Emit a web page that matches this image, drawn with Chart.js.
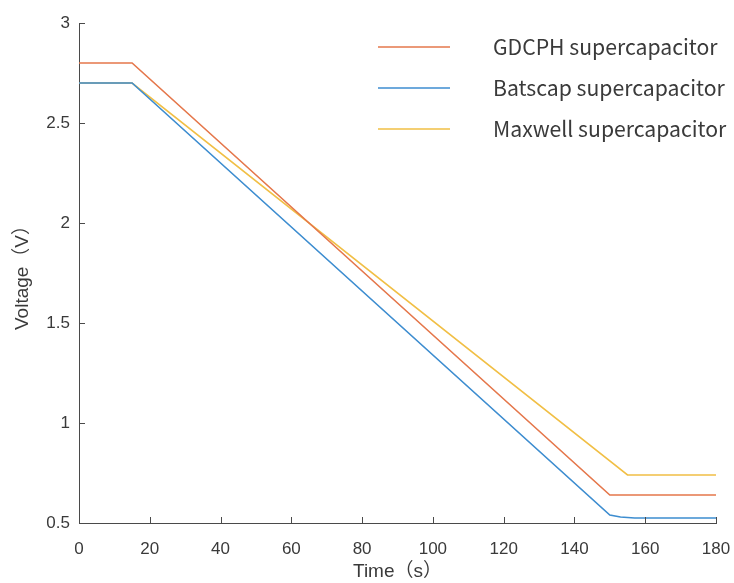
<!DOCTYPE html>
<html>
<head>
<meta charset="utf-8">
<script src="https://cdn.jsdelivr.net/npm/chart.js@4/dist/chart.umd.min.js"></script>
<style>
html,body{margin:0;padding:0;background:#fff;}
#wrap{width:734px;height:583px;position:relative;}
</style>
</head>
<body>
<div id="wrap"><canvas id="c" width="734" height="583"></canvas></div>
<script>
// ---- data ----
const seriesLabels = ['GDCPH supercapacitor', 'Batscap supercapacitor', 'Maxwell supercapacitor'];
const gdcphTime = [0, 15, 150, 180];
const gdcphVolt = [2.8, 2.8, 0.64, 0.64];
const batscapTime = [0, 15, 150, 153, 157, 180];
const batscapVolt = [2.7, 2.7, 0.54, 0.53, 0.525, 0.525];
const maxwellTime = [0, 15, 155, 180];
const maxwellVolt = [2.7, 2.7, 0.74, 0.74];
const xTicks = [0, 20, 40, 60, 80, 100, 120, 140, 160, 180];
const yTicks = [0.5, 1, 1.5, 2, 2.5, 3];
const xTitle = 'Time（s）';
const yTitle = 'Voltage（V）';

const colors = ['#E5774B', '#3D8DD0', '#F1BF45'];
const pts = (t, v) => t.map((x, i) => ({x, y: v[i]}));

const axisColor = '#4a4a4a';
const textColor = '#3a3a3a';

const innerTicks = {
  id: 'innerTicks',
  afterDraw(chart) {
    const {ctx, chartArea: a, scales: {x, y}} = chart;
    ctx.save();
    ctx.strokeStyle = axisColor;
    ctx.lineWidth = 1;
    ctx.beginPath();
    xTicks.forEach(v => {
      const px = Math.round(x.getPixelForValue(v)) + 0.5;
      ctx.moveTo(px, a.bottom); ctx.lineTo(px, a.bottom - 6);
    });
    yTicks.forEach(v => {
      const py = Math.round(y.getPixelForValue(v)) + 0.5;
      ctx.moveTo(a.left, py); ctx.lineTo(a.left + 6, py);
    });
    ctx.stroke();
    ctx.restore();
  }
};

const insideLegend = {
  id: 'insideLegend',
  afterDraw(chart) {
    const ctx = chart.ctx;
    ctx.save();
    ctx.font = '21.2px "Noto Sans CJK SC", "Noto Sans", sans-serif';
    ctx.textBaseline = 'middle';
    chart.data.datasets.forEach((ds, i) => {
      const yy = 47 + i * 41;
      ctx.strokeStyle = ds.borderColor;
      ctx.lineWidth = 1.6;
      ctx.beginPath();
      ctx.moveTo(378, yy); ctx.lineTo(450, yy);
      ctx.stroke();
      ctx.fillStyle = textColor;
      ctx.fillText(ds.label, 493, yy);
    });
    ctx.restore();
  }
};

new Chart(document.getElementById('c'), {
  type: 'line',
  data: {
    datasets: [
      {label: seriesLabels[0], data: pts(gdcphTime, gdcphVolt), borderColor: colors[0]},
      {label: seriesLabels[1], data: pts(batscapTime, batscapVolt), borderColor: colors[1]},
      {label: seriesLabels[2], data: pts(maxwellTime, maxwellVolt), borderColor: colors[2]}
    ].map(d => Object.assign(d, {borderWidth: 1.6, pointRadius: 0, fill: false, tension: 0}))
  },
  options: {
    responsive: false,
    animation: false,
    layout: {padding: {top: 23, right: 0, left: 0, bottom: 0}},
    plugins: {legend: {display: false}, tooltip: {enabled: false}},
    scales: {
      x: {
        type: 'linear', min: 0, max: 180,
        afterBuildTicks: s => { s.ticks = xTicks.map(v => ({value: v})); },
        afterFit: s => { s.height = 60; s.paddingRight = 18; s.paddingLeft = 0; },
        grid: {display: false, drawTicks: false},
        border: {display: true, color: axisColor, width: 1},
        ticks: {padding: 16, color: textColor, font: {family: '"Liberation Sans", Arial, sans-serif', size: 17}, maxRotation: 0, autoSkip: false, callback: v => String(v)},
        title: {display: true, text: xTitle, color: textColor, font: {family: '"Liberation Sans", "Noto Sans CJK SC", sans-serif', size: 19}, padding: {top: 0, bottom: 0}}
      },
      y: {
        type: 'linear', min: 0.5, max: 3,
        afterBuildTicks: s => { s.ticks = yTicks.map(v => ({value: v})); },
        afterFit: s => { s.width = 79; s.paddingTop = 0; s.paddingBottom = 0; },
        grid: {display: false, drawTicks: false},
        border: {display: true, color: axisColor, width: 1},
        ticks: {padding: 9, color: textColor, font: {family: '"Liberation Sans", Arial, sans-serif', size: 17}, autoSkip: false, callback: v => String(v)},
        title: {display: true, text: yTitle, color: textColor, font: {family: '"Liberation Sans", "Noto Sans CJK SC", sans-serif', size: 19}, padding: {top: 11, bottom: 4}}
      }
    }
  },
  plugins: [innerTicks, insideLegend]
});
</script>
</body>
</html>
